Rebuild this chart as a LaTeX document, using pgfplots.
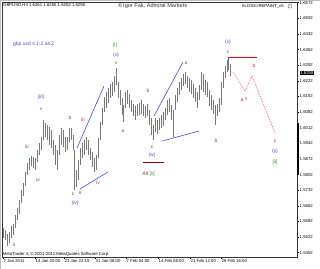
\documentclass[border=0pt]{standalone}
\usepackage{pgfplots}
\usepackage{pgfplotstable}
\pgfplotsset{compat=1.18}
\usepackage{fontspec}
\setmainfont{Liberation Sans}
\definecolor{barc}{RGB}{120,120,120}
\definecolor{lred}{RGB}{175,50,50}
\definecolor{lblue}{RGB}{70,70,225}
\definecolor{lgreen}{RGB}{40,150,40}
\definecolor{dred}{RGB}{150,0,0}
\newcommand\lab{\fontsize{5}{6}\selectfont}
\newcommand\tk{\fontsize{4.3}{5}\selectfont}
\pgfplotstableread{
x lo hi
3 1.5518 1.5563
5 1.5509 1.5554
7 1.5482 1.5536
9 1.5495 1.5545
11 1.5518 1.5572
13 1.5531 1.5581
15 1.5563 1.5621
17 1.5599 1.5652
19 1.5625 1.5688
21 1.5675 1.5733
23 1.5706 1.5764
25 1.5751 1.5814
27 1.5800 1.5854
29 1.5823 1.5876
31 1.5840 1.5885
33 1.5831 1.5881
35 1.5823 1.5876
37 1.5858 1.5912
39 1.5890 1.5943
41 1.5912 1.5970
43 1.5957 1.6046
45 1.5970 1.6033
47 1.5957 1.6024
49 1.5935 1.6015
51 1.5921 1.6002
53 1.5890 1.5957
55 1.5845 1.5935
57 1.5823 1.5912
59 1.5890 1.5979
61 1.5935 1.6011
63 1.5926 1.6002
65 1.5903 1.5970
67 1.5912 1.5970
69 1.5948 1.6011
71 1.5957 1.6011
73 1.5912 1.5979
74 1.5733 1.5912
76 1.5746 1.5823
78 1.5778 1.5867
80 1.5845 1.5921
82 1.5876 1.5943
84 1.5890 1.5957
86 1.5912 1.5970
88 1.5890 1.5957
90 1.5867 1.5921
92 1.5836 1.5903
94 1.5814 1.5876
96 1.5823 1.5890
98 1.5876 1.5966
100 1.5957 1.6038
102 1.6024 1.6100
104 1.6082 1.6150
106 1.6100 1.6172
108 1.6123 1.6190
110 1.6145 1.6208
112 1.6154 1.6217
114 1.6172 1.6244
116 1.6203 1.6279
118 1.6145 1.6217
120 1.6114 1.6181
122 1.6069 1.6145
123 1.6038 1.6114
125 1.6100 1.6172
127 1.6118 1.6181
129 1.6100 1.6163
131 1.6082 1.6136
133 1.6064 1.6118
135 1.6046 1.6109
137 1.6064 1.6118
139 1.6069 1.6123
141 1.6073 1.6136
143 1.6064 1.6118
145 1.6055 1.6109
147 1.6064 1.6118
149 1.6024 1.6091
151 1.5979 1.6055
153 1.5957 1.6024
155 1.5993 1.6055
157 1.5984 1.6046
159 1.6002 1.6055
161 1.6011 1.6069
163 1.6020 1.6082
165 1.6046 1.6100
167 1.6069 1.6136
169 1.6082 1.6145
171 1.6046 1.6114
173 1.5970 1.6091
175 1.6091 1.6159
177 1.6127 1.6190
179 1.6159 1.6217
181 1.6181 1.6235
183 1.6199 1.6253
185 1.6208 1.6262
187 1.6190 1.6244
189 1.6172 1.6235
191 1.6163 1.6226
193 1.6145 1.6208
195 1.6127 1.6190
197 1.6100 1.6172
199 1.6136 1.6203
201 1.6181 1.6262
203 1.6172 1.6253
205 1.6159 1.6226
207 1.6150 1.6217
209 1.6109 1.6181
211 1.6091 1.6159
213 1.6073 1.6136
215 1.6024 1.6114
217 1.6064 1.6118
219 1.6082 1.6145
221 1.6114 1.6217
223 1.6190 1.6262
225 1.6235 1.6288
227 1.6262 1.6315
228 1.6271 1.6329
230 1.6244 1.6297
}\bars
\begin{document}
\begin{tikzpicture}
\useasboundingbox (0,0) rectangle (320bp,269bp);
\draw[gray!50, line width=0.4bp] (0.2bp,0.2bp) rectangle (319.8bp,268.8bp);
\begin{axis}[
  at={(2bp,12bp)}, anchor=south west,
  scale only axis, width=295bp, height=255bp,
  xmin=2, xmax=297, ymin=1.54327, ymax=1.65751,
  clip=false,
  axis line style={black!80, line width=0.4bp},
  tick style={black, line width=0.4bp},
  tick align=outside, major tick length=2bp,
  ytick pos=right, yticklabel pos=right,
  xtick pos=bottom,
  ytick={1.5452,1.5522,1.5592,1.5662,1.5732,1.5802,1.5872,1.5942,1.6012,1.6082,1.6152,1.6222,1.6292,1.6362,1.6432,1.6502,1.6572},
  yticklabels={1.5452,1.5522,1.5592,1.5662,1.5732,1.5802,1.5872,1.5942,1.6012,1.6082,1.6152,1.6222,1.6292,1.6362,1.6432,1.6502,1.6572},
  yticklabel style={font=\tk, inner sep=0.5bp},
  xtick={3,35,64,95,126,158,190,221},
  xticklabels={7 Jan 2011,14 Jan 20:00,23 Jan 22:15,31 Jan 08:00,7 Feb 04:00,14 Feb 08:00,21 Feb 12:00,28 Feb 16:00},
  xticklabel style={font=\tk, anchor=north west, inner sep=0.5bp},
]
\addplot[forget plot, draw=none, mark=none,
  error bars/.cd, y dir=plus, y explicit, error mark=none,
  error bar style={draw=barc, line width=0.85bp, solid}]
  table[x=x, y=lo, y error plus expr=\thisrow{hi}-\thisrow{lo}] {\bars};
% trend lines
\addplot[lblue, line width=0.6bp] coordinates {(77,1.5921) (104,1.6199)};
\addplot[lblue, line width=0.6bp] coordinates {(80,1.5737) (108,1.5814)};
\addplot[lblue, line width=0.6bp] coordinates {(154,1.6064) (183,1.6306)};
\addplot[lblue, line width=0.6bp] coordinates {(162,1.5952) (199,1.5997)};
\addplot[red, line width=0.8bp] coordinates {(228,1.6329) (257,1.6329)};
\addplot[dred, line width=0.9bp] coordinates {(143,1.5858) (164,1.5858)};
\addplot[red!55, densely dotted, line width=0.8bp] coordinates {(233,1.6262) (245,1.6176) (252,1.6244) (275,1.5988)};
\addplot[black, line width=1.3bp] coordinates {(298,1.6033) (298,1.5800)};
% current price
\node[fill=black, text=white, font=\tk, anchor=west, inner sep=0.6bp] at (axis cs:299.5,1.6258) {1.6258};
% header texts
\node[font=\tk, anchor=west, inner sep=0pt] at (axis cs:3,1.6562) {GBPUSD,H4  1.6261 1.6265 1.6252 1.6258};
\node[font=\fontsize{5.6}{6}\selectfont, anchor=west, inner sep=0pt, text=black!80] at (axis cs:118,1.6557) {\char"00A9\,Igor Fak, Admiral Markets};
\node[font=\tk, anchor=west, inner sep=0pt] at (axis cs:242,1.6557) {\#LOSS=REPAINT\_v5};
\node[draw=black!70, circle, inner sep=0pt, minimum size=4.2bp, font=\fontsize{3.2}{3}\selectfont, line width=0.3bp] at (axis cs:290,1.6557) {i};
\node[font=\tk, anchor=west, inner sep=0pt] at (axis cs:2.5,1.5446) {MetaTrader 4, \char"00A9\ 2001-2011 MetaQuotes Software Corp.};
% comment
\node[font=\lab, text=lblue, anchor=west, inner sep=0pt] at (axis cs:13,1.6387) {gbp usd s 1-2 alt Z};
% wave labels
\node[font=\lab, text=lgreen] at (axis cs:115,1.6383) {[i]};
\node[font=\lab, text=lblue] at (axis cs:116,1.6338) {(v)};
\node[font=\lab, text=lred] at (axis cs:116,1.6302) {v};
\node[font=\lab, text=lblue] at (axis cs:41,1.6150) {(iii)};
\node[font=\lab, text=lred] at (axis cs:41,1.6096) {v};
\node[font=\lab, text=lred] at (axis cs:27,1.5926) {iii};
\node[font=\lab, text=lred] at (axis cs:38,1.5778) {iv};
\node[font=\lab, text=lred] at (axis cs:14,1.5487) {ii};
\node[font=\lab, text=lred] at (axis cs:70,1.6055) {b};
\node[font=\lab, text=lred] at (axis cs:83,1.6046) {iii};
\node[font=\lab, text=lred] at (axis cs:75,1.5876) {i};
\node[font=\lab, text=lred] at (axis cs:73,1.5715) {c};
\node[font=\lab, text=lred] at (axis cs:80,1.5720) {ii};
\node[font=\lab, text=lblue] at (axis cs:75,1.5675) {(iv)};
\node[font=\lab, text=lred] at (axis cs:98,1.5764) {iv};
\node[font=\lab, text=lred] at (axis cs:123,1.5997) {a};
\node[font=\lab, text=lred] at (axis cs:148,1.6176) {b};
\node[font=\lab, text=lred] at (axis cs:186,1.6302) {a};
\node[font=\lab, text=lred] at (axis cs:152,1.5926) {c};
\node[font=\lab, text=lblue] at (axis cs:152,1.5890) {(w)};
\node[font=\lab, text=lred] at (axis cs:216,1.5952) {b};
\node[font=\lab, text=lblue] at (axis cs:228,1.6396) {(x)};
\node[font=\lab, text=lred] at (axis cs:228,1.6351) {c};
\node[font=\lab, text=lred] at (axis cs:254,1.6288) {b};
\node[font=\lab, text=lred] at (axis cs:244,1.6136) {a ?};
\node[font=\lab, text=lred] at (axis cs:275,1.5952) {c};
\node[font=\lab, text=lblue] at (axis cs:275,1.5907) {(y)};
\node[font=\lab, text=lgreen] at (axis cs:275,1.5858) {[ii]};
\node[font=\lab, text=lred, anchor=east, inner sep=0.5bp] at (axis cs:149,1.5805) {Alt};
\node[font=\lab, text=lgreen, anchor=west, inner sep=0.5bp] at (axis cs:149,1.5805) {[ii]};
\end{axis}
\end{tikzpicture}
\end{document}
